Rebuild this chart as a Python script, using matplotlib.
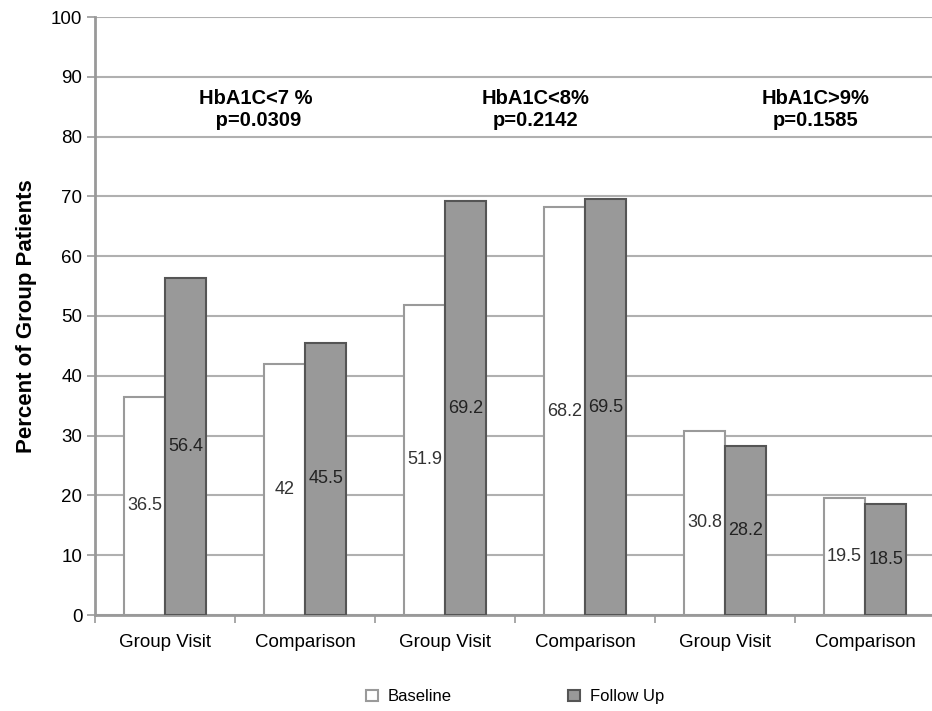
import matplotlib.pyplot as plt
import numpy as np

plt.rcParams['font.family'] = ['Liberation Sans', 'DejaVu Sans']

categories = ['Group Visit', 'Comparison', 'Group Visit', 'Comparison', 'Group Visit', 'Comparison']
baseline = [36.5, 42, 51.9, 68.2, 30.8, 19.5]
follow_up = [56.4, 45.5, 69.2, 69.5, 28.2, 18.5]
base_labels = ['36.5', '42', '51.9', '68.2', '30.8', '19.5']
follow_labels = ['56.4', '45.5', '69.2', '69.5', '28.2', '18.5']
group_titles = ['HbA1C<7 %\n p=0.0309', 'HbA1C<8%\np=0.2142', 'HbA1C>9%\np=0.1585']

fig = plt.figure(figsize=(9.32, 7.11), dpi=100)
ax = fig.add_axes([95 / 932, 96 / 711, 840 / 932, 598 / 711])

x = np.arange(len(categories))
w = 0.295
b1 = ax.bar(x - w / 2, baseline, w, color='white', edgecolor='#9a9a9a', linewidth=1.5, zorder=3)
b2 = ax.bar(x + w / 2, follow_up, w, color='#999999', edgecolor='#555555', linewidth=1.5, zorder=3)

for i in range(len(x)):
    ax.text(x[i] - w / 2, baseline[i] / 2, base_labels[i], ha='center', va='center',
            fontsize=13, color='#333333', zorder=4)
    ax.text(x[i] + w / 2, follow_up[i] / 2, follow_labels[i], ha='center', va='center',
            fontsize=13, color='#222222', zorder=4)

for k, t in enumerate(group_titles):
    ax.text(0.65 + 2 * k, 84.5, t, ha='center', va='center', fontsize=14.5,
            fontweight='bold', linespacing=1.2)

ax.set_xlim(-0.5, 5.5)
ax.set_ylim(0, 100)
ax.set_yticks(range(0, 101, 10))
ax.yaxis.grid(True, color='#b0b0b0', linewidth=1.5, zorder=0)
ax.set_axisbelow(True)

ax.set_xticks(x)
ax.set_xticklabels(categories, fontsize=13.5)
ax.set_xticks(np.arange(-0.5, 5.6, 1), minor=True)
ax.tick_params(axis='x', which='major', length=0, pad=14)
ax.tick_params(axis='x', which='minor', length=6, color='#999999', width=1.2)
ax.tick_params(axis='y', length=6, color='#999999', width=1.2, labelsize=13.5, pad=3)

for s in ['top', 'right']:
    ax.spines[s].set_visible(False)
for s in ['left', 'bottom']:
    ax.spines[s].set_color('#999999')
    ax.spines[s].set_linewidth(2)

ax.set_ylabel('Percent of Group Patients', fontsize=16, fontweight='bold', labelpad=10)

ax.legend([b1, b2], ['Baseline', 'Follow Up'], loc='center', bbox_to_anchor=(0.5, -0.137),
          ncol=2, frameon=False, fontsize=12, handlelength=0.7, handleheight=0.7,
          columnspacing=7, handletextpad=0.6)

fig.savefig('out.png', dpi=100)
